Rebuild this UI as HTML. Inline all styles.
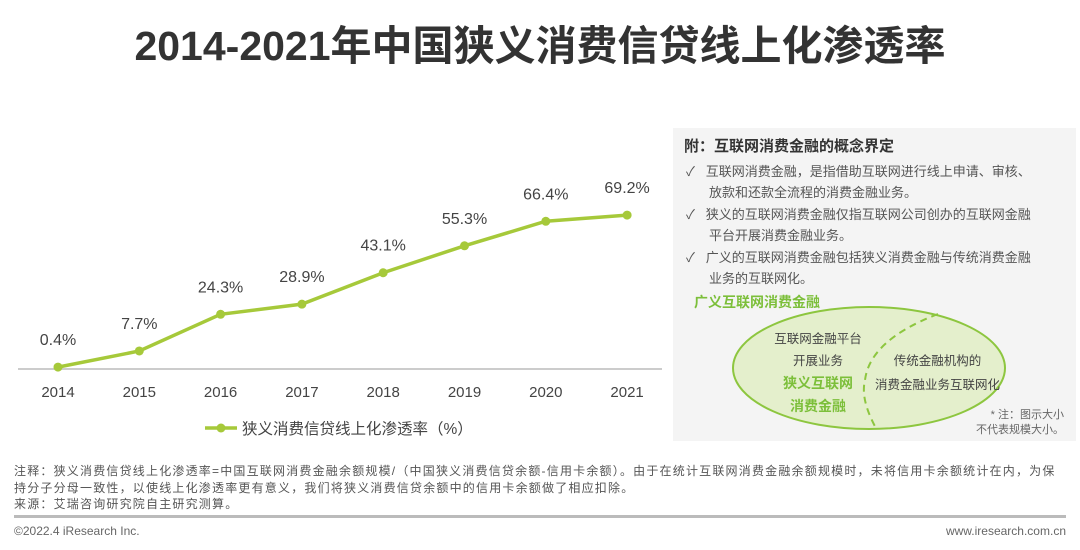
<!DOCTYPE html>
<html><head><meta charset="utf-8"><style>
body{margin:0;width:1080px;height:550px;background:#fff;font-family:"Liberation Sans","Noto Sans CJK SC",sans-serif;position:relative;overflow:hidden;color:#444}
.a{position:absolute;white-space:nowrap}
</style></head><body>
<div class="a" style="left:0;width:1080px;text-align:center;top:12px;font-size:41px;font-weight:bold;color:#333">2014-2021年中国狭义消费信贷线上化渗透率</div>
<svg class="a" style="left:0;top:0" width="670" height="450">
<g id="g"></g>
</svg>
<div class="a" style="left:673px;top:128px;width:403px;height:313px;background:#f4f4f4"></div>
<div class="a" style="left:684px;top:135px;font-size:15px;font-weight:bold;color:#333">附：互联网消费金融的概念界定</div>
<div class="a" style="left:686px;top:162px;font-size:13px;line-height:20.5px;color:#555">
<div>✓&nbsp;&nbsp;&nbsp;互联网消费金融，是指借助互联网进行线上申请、审核、</div>
<div style="padding-left:23px">放款和还款全流程的消费金融业务。</div>
<div style="margin-top:2px">✓&nbsp;&nbsp;&nbsp;狭义的互联网消费金融仅指互联网公司创办的互联网金融</div>
<div style="padding-left:23px">平台开展消费金融业务。</div>
<div style="margin-top:2px">✓&nbsp;&nbsp;&nbsp;广义的互联网消费金融包括狭义消费金融与传统消费金融</div>
<div style="padding-left:23px">业务的互联网化。</div></div>
<div class="a" style="left:694px;top:292px;font-size:14px;font-weight:bold;color:#7cbf3a">广义互联网消费金融</div>
<svg class="a" style="left:670px;top:290px" width="410" height="160">
<ellipse cx="199" cy="78" rx="136" ry="61" fill="#e4efcc" stroke="#8dc63f" stroke-width="2"/>
<path d="M268 24 Q200 50 195 90 Q190 110 207 140" fill="none" stroke="#8dc63f" stroke-width="2" stroke-dasharray="7,5"/>
</svg>
<div class="a" style="left:769px;top:328px;font-size:12.5px;color:#444;line-height:22px;text-align:center;width:98px">互联网金融平台<br>开展业务<br><b style="color:#7cbf3a;font-size:14px">狭义互联网<br>消费金融</b></div>
<div class="a" style="left:870px;top:349px;font-size:12.5px;color:#444;line-height:24px;text-align:center;width:135px">传统金融机构的<br>消费金融业务互联网化</div>
<div class="a" style="left:976px;top:408px;font-size:11px;color:#666;line-height:15px;text-align:right">* 注：图示大小<br>不代表规模大小。</div>
<div class="a" style="left:14px;top:463px;font-size:12px;line-height:16.5px;color:#555;letter-spacing:1.2px">注释：狭义消费信贷线上化渗透率=中国互联网消费金融余额规模/（中国狭义消费信贷余额-信用卡余额）。由于在统计互联网消费金融余额规模时，未将信用卡余额统计在内，为保<br>持分子分母一致性，以使线上化渗透率更有意义，我们将狭义消费信贷余额中的信用卡余额做了相应扣除。<br>来源：艾瑞咨询研究院自主研究测算。</div>
<div class="a" style="left:14px;top:515px;width:1052px;height:3px;background:#bbb"></div>
<div class="a" style="left:14px;top:524px;font-size:12px;color:#666">©2022.4 iResearch Inc.</div>
<div class="a" style="right:14px;top:524px;font-size:12px;color:#666">www.iresearch.com.cn</div>
<script>
const years=["2014","2015","2016","2017","2018","2019","2020","2021"];
const values=[0.4,7.7,24.3,28.9,43.1,55.3,66.4,69.2];
const valueLabels=["0.4%","7.7%","24.3%","28.9%","43.1%","55.3%","66.4%","69.2%"];
const legendLabel="狭义消费信贷线上化渗透率（%）";
const NS="http://www.w3.org/2000/svg";
const g=document.getElementById('g');
const x=i=>58+i*81.3;
const y=v=>368-v*2.21;
function mk(t,a){const e=document.createElementNS(NS,t);for(const k in a)e.setAttribute(k,a[k]);g.appendChild(e);return e;}
let ax=mk('line',{x1:18,x2:662,y1:369,y2:369,stroke:'#bbb','stroke-width':1.5});


let pl=mk('polyline',{points:values.map((v,i)=>x(i)+','+y(v)).join(' '),fill:'none',stroke:'#a6c93a','stroke-width':3.5});


values.forEach((v,i)=>{
 let c=mk('circle',{cx:x(i),cy:y(v),r:4.5,fill:'#a6c93a'});
 
 
 let t=mk('text',{x:x(i),y:y(v)-22,'text-anchor':'middle','font-size':16,fill:'#444'});
 t.textContent=valueLabels[i];
 
 
 let l=mk('text',{x:x(i),y:397,'text-anchor':'middle','font-size':15,fill:'#444'});
 l.textContent=years[i];
 
 
});
let ll=mk('line',{x1:205,x2:237,y1:428,y2:428,stroke:'#a6c93a','stroke-width':3.5});


let lc=mk('circle',{cx:221,cy:428,r:4.5,fill:'#a6c93a'});


let lt=mk('text',{x:242,y:434,'font-size':15.5,fill:'#444'});
lt.textContent=legendLabel;


</script>
</body></html>
